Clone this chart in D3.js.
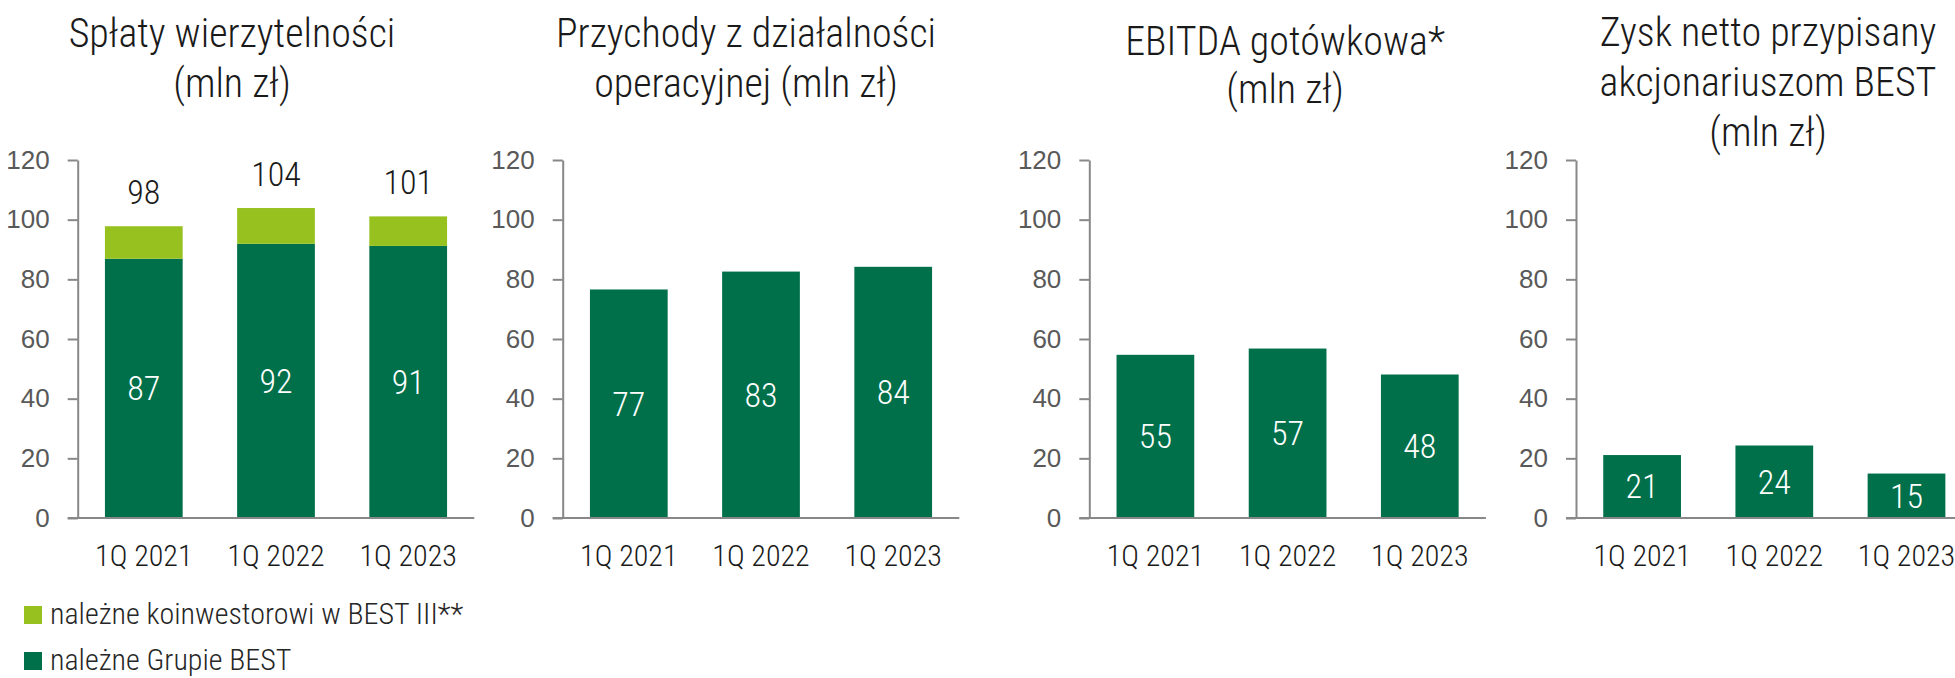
<!DOCTYPE html>
<html>
<head>
<meta charset="utf-8">
<script src="https://cdn.jsdelivr.net/npm/d3@7"></script>
<style>
    body { margin: 0; background: #fff; }
    svg { display: block; font-family: "Liberation Sans Narrow", "Roboto Condensed", "DejaVu Sans Condensed", "Arial Narrow", sans-serif; font-weight: 300; }
    .title { font-size: 40px; fill: #1a1a1a; }
    .axis text { font-size: 26px; fill: #595959; font-family: inherit; }
    .axis path, .axis line { stroke: #888; stroke-width: 2; }
    .baseline { stroke: #888; stroke-width: 2; }
    .cat { font-size: 30px; fill: #1a1a1a; }
    .inner { font-size: 34px; fill: #fff; }
    .total { font-size: 34px; fill: #1a1a1a; }
    .legend text { font-size: 30px; fill: #262626; }
</style>
</head>
<body>
<script>
(function(){

//chart data
var categories = ["1Q 2021", "1Q 2022", "1Q 2023"];
var yTicks = [0, 20, 40, 60, 80, 100, 120];

var repaymentsGroup = [86.9, 91.9, 91.2];        //należne Grupie BEST
var repaymentsCoinvestor = [10.9, 12.0, 9.9];    //należne koinwestorowi w BEST III
var revenues = [76.6, 82.6, 84.2];
var cashEbitda = [54.7, 56.8, 48.1];
var netProfit = [21.1, 24.3, 14.9];

var titles1 = ["Spłaty wierzytelności", "(mln zł)"];
var titles2 = ["Przychody z działalności", "operacyjnej (mln zł)"];
var titles3 = ["EBITDA gotówkowa*", "(mln zł)"];
var titles4 = ["Zysk netto przypisany", "akcjonariuszom BEST", "(mln zł)"];

var legendLabels = ["należne koinwestorowi w BEST III**", "należne Grupie BEST"];

var darkGreen = "#00704a",
    lightGreen = "#96c11f";

window.onload = setCharts();

function setCharts(){
    var width = 1955,
        height = 678;

    var svg = d3.select("body")
        .append("svg")
        .attr("width", width)
        .attr("height", height);

    //shared vertical scale
    var yScale = d3.scaleLinear()
        .domain([0, 120])
        .range([518, 160]);

    //panel 1: stacked bars
    var p1 = setPanel(svg, 77.7, yScale);
    setTitle(svg, titles1, 232, [47, 97]);
    var x1 = p1.x;
    drawBars(p1.g, x1, yScale, repaymentsGroup.map(function(v){ return [0, v]; }), darkGreen);
    drawBars(p1.g, x1, yScale, repaymentsGroup.map(function(v, i){ return [v, v + repaymentsCoinvestor[i]]; }), lightGreen);
    innerLabels(p1.g, x1, yScale, repaymentsGroup);
    //totals above bars
    p1.g.selectAll(".total")
        .data(repaymentsGroup)
        .enter()
        .append("text")
        .attr("class", "total")
        .attr("text-anchor", "middle")
        .attr("x", function(d, i){ return x1(categories[i]) + x1.bandwidth() / 2; })
        .attr("y", function(d, i){ return yScale(d + repaymentsCoinvestor[i]) - 34; })
        .attr("dy", "0.35em")
        .text(function(d, i){ return Math.round(d + repaymentsCoinvestor[i]); });

    //panel 2
    var p2 = setPanel(svg, 562.7, yScale);
    setTitle(svg, titles2, 746, [47, 97]);
    drawBars(p2.g, p2.x, yScale, revenues.map(function(v){ return [0, v]; }), darkGreen);
    innerLabels(p2.g, p2.x, yScale, revenues);

    //panel 3
    var p3 = setPanel(svg, 1089.3, yScale);
    setTitle(svg, titles3, 1285, [55, 103]);
    drawBars(p3.g, p3.x, yScale, cashEbitda.map(function(v){ return [0, v]; }), darkGreen);
    innerLabels(p3.g, p3.x, yScale, cashEbitda);

    //panel 4
    var p4 = setPanel(svg, 1576, yScale);
    setTitle(svg, titles4, 1768, [46, 96, 146]);
    drawBars(p4.g, p4.x, yScale, netProfit.map(function(v){ return [0, v]; }), darkGreen);
    innerLabels(p4.g, p4.x, yScale, netProfit);

    setLegend(svg);
};

//axes, baseline and category labels of one panel
function setPanel(svg, left, yScale){
    var g = svg.append("g");

    var x = d3.scaleBand()
        .domain(categories)
        .range([left, left + 396.6])
        .paddingInner(0.412)
        .paddingOuter(0.206);

    var yAxis = d3.axisLeft(yScale)
        .tickValues(yTicks)
        .tickSize(10)
        .tickSizeOuter(0)
        .tickPadding(18);

    g.append("g")
        .attr("class", "axis")
        .attr("transform", "translate(" + left + ",0)")
        .call(yAxis);

    g.append("line")
        .attr("class", "baseline")
        .attr("x1", left - 10)
        .attr("x2", x.range()[1])
        .attr("y1", yScale(0))
        .attr("y2", yScale(0));

    g.selectAll(".cat")
        .data(categories)
        .enter()
        .append("text")
        .attr("class", "cat")
        .attr("text-anchor", "middle")
        .attr("x", function(d){ return x(d) + x.bandwidth() / 2; })
        .attr("y", yScale(0) + 48)
        .text(function(d){ return d; });

    return {g: g, x: x};
};

function drawBars(g, x, yScale, spans, color){
    g.insert("g", ".baseline")
        .selectAll("rect")
        .data(spans)
        .enter()
        .append("rect")
        .attr("x", function(d, i){ return x(categories[i]); })
        .attr("width", x.bandwidth())
        .attr("y", function(d){ return yScale(d[1]); })
        .attr("height", function(d){ return yScale(d[0]) - yScale(d[1]); })
        .style("fill", color);
};

function innerLabels(g, x, yScale, values){
    g.selectAll(".inner")
        .data(values)
        .enter()
        .append("text")
        .attr("class", "inner")
        .attr("text-anchor", "middle")
        .attr("x", function(d, i){ return x(categories[i]) + x.bandwidth() / 2; })
        .attr("y", function(d){ return yScale(d / 2); })
        .attr("dy", "0.35em")
        .text(function(d){ return Math.round(d); });
};

function setTitle(svg, lines, cx, ys){
    svg.selectAll(null)
        .data(lines)
        .enter()
        .append("text")
        .attr("class", "title")
        .attr("text-anchor", "middle")
        .attr("x", cx)
        .attr("y", function(d, i){ return ys[i]; })
        .text(function(d){ return d; });
};

function setLegend(svg){
    var colors = [lightGreen, darkGreen];
    var items = svg.append("g")
        .attr("class", "legend")
        .selectAll("g")
        .data(legendLabels)
        .enter()
        .append("g")
        .attr("transform", function(d, i){ return "translate(24," + (606 + i * 46) + ")"; });

    items.append("rect")
        .attr("width", 18)
        .attr("height", 18)
        .style("fill", function(d, i){ return colors[i]; });

    items.append("text")
        .attr("x", 26)
        .attr("y", 18)
        .text(function(d){ return d; });
};

})();
</script>
</body>
</html>
